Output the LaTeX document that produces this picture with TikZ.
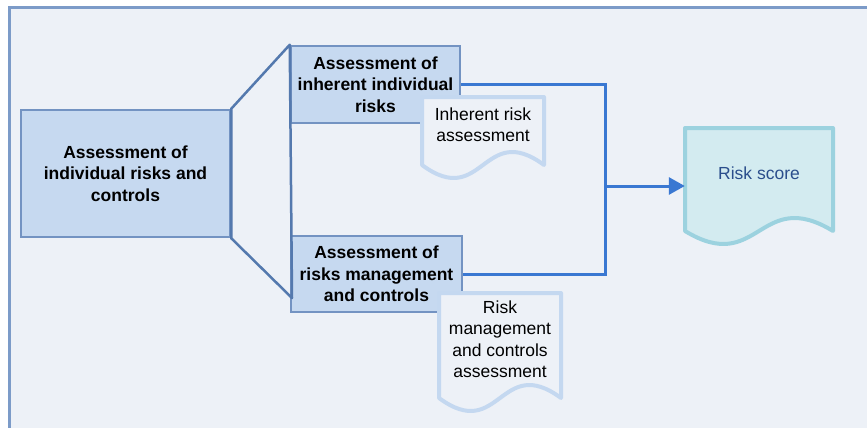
\documentclass[tikz,border=0pt]{standalone}
\usepackage{fontspec}
\setmainfont{Liberation Sans}
\usetikzlibrary{arrows.meta,calc}

\definecolor{pagebg}{HTML}{EDF1F7}
\definecolor{framecol}{HTML}{7C9BC8}
\definecolor{boxfill}{HTML}{C6D9F0}
\definecolor{boxline}{HTML}{7393C2}
\definecolor{fanline}{HTML}{5479AE}
\definecolor{flowline}{HTML}{3A78D2}
\definecolor{docline}{HTML}{C4D8F0}
\definecolor{scorefill}{HTML}{D3EBF0}
\definecolor{scoreline}{HTML}{9CD2DF}
\definecolor{scoretext}{HTML}{2B4E8C}

% document shape: name, centre, width, height, look, text
\newcommand{\docnode}[6]{%
  \draw[#5] ($(#2)+(-#3/2,#4/2+13)$) -- ($(#2)+(-#3/2,-#4/2)$) -- ($(#2)+(#3/2,-#4/2)$) -- ($(#2)+(#3/2,#4/2+13)$)
    .. controls ($(#2)+(0,#4/2-32)$) and ($(#2)+(0,#4/2+58)$) .. ($(#2)+(-#3/2,#4/2+13)$) -- cycle;
  \node[doc, minimum width=#3pt, minimum height=#4pt] (#1) at (#2) {#6};}

\begin{document}
\begin{tikzpicture}[x = 1pt, y = -1pt,
    font = \fontsize{17.5}{21.5}\selectfont,
    box/.style = {draw = boxline, fill = boxfill, line width = 2.5pt, align = center, font = \fontsize{17.5}{21.5}\selectfont\bfseries},
    doc/.style = {align = center, inner sep = 0pt},
    fan/.style = {draw = fanline, line width = 2.5pt},
    flow/.style = {draw = flowline, line width = 3pt}]
	\useasboundingbox (0, 0) rectangle (867, 428);
	\fill[pagebg] (9, 8) rectangle (867, 428);
	\draw[framecol, line width = 3pt] (9, 428) -- (9, 8) -- (867, 8);

	% Nodes
	\node[box, minimum width = 209pt, minimum height = 127pt] (indiv) at (125.5, 173.5) {Assessment of\\individual risks and\\controls};
	\node[box, minimum width = 169pt, minimum height = 77pt] (inh) at (375.5, 84.5) {Assessment of\\inherent individual\\risks};
	\node[box, minimum width = 171pt, minimum height = 76pt] (mgmt) at (376.5, 274) {Assessment of\\risks management\\and controls};
	\coordinate (fanlow) at (292, 298);
	\coordinate (join) at (605, 186);

	% Edges
	\draw[fan, line join = round] (indiv.north east) -- (inh.north west) -- (fanlow) -- (indiv.south east) -- cycle;
	\draw[flow] (inh.east) -| (join);
	\draw[flow] (mgmt.east) -| (join);

	% Documents
	\docnode{inhdoc}{483, 124.5}{122}{55}{draw = docline, fill = pagebg, line width = 4pt, line join = round}{Inherent risk\\assessment}
	\docnode{mgmtdoc}{500, 339}{122}{92}{draw = docline, fill = pagebg, line width = 4pt, line join = round}{Risk\\management\\and controls\\assessment}
	\docnode{score}{759, 173}{148}{90}{draw = scoreline, fill = scorefill, line width = 4pt, line join = round}{\textcolor{scoretext}{Risk score}}
	\draw[flow, -{Triangle[length = 16pt, width = 17pt]}] (join) -- (join -| score.west);
\end{tikzpicture}
\end{document}
